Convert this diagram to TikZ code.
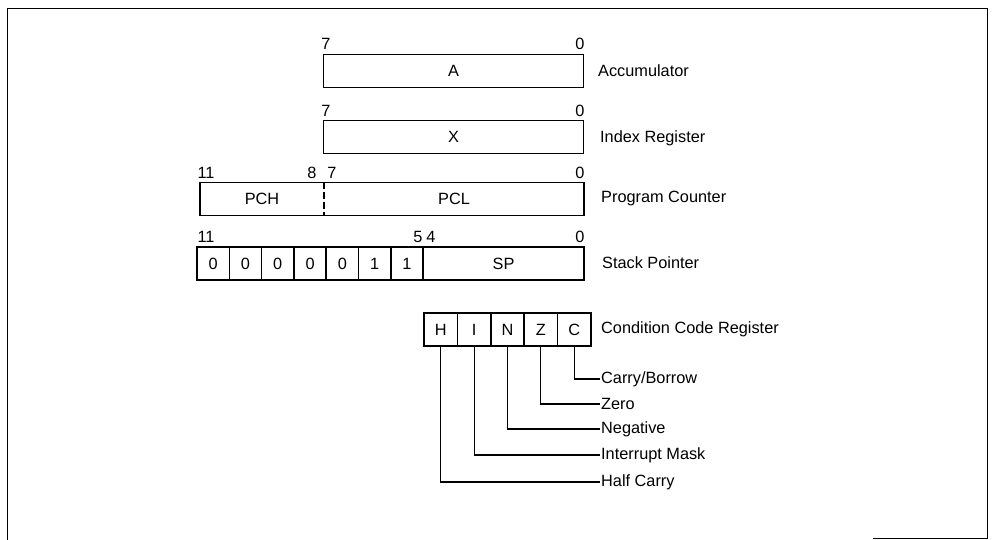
\documentclass[tikz,border=0pt]{standalone}
\usepackage{fontspec}
\setmainfont{Liberation Sans}

\tikzset{
  reg/.style={draw, line width=1.6pt, minimum height=33pt, inner sep=0pt},
  bitno/.style={inner sep=0pt},
  regname/.style={anchor=west, inner sep=1pt},
  lead/.style={line width=1.1pt},
}

\begin{document}
\begin{tikzpicture}[x=1pt, y=-1pt, font=\fontsize{16.3}{19}\selectfont]
  \useasboundingbox (0,0) rectangle (993,540);
  % Frame round the figure.
  \draw[line width=0.9pt] (7,540) -- (7,8) -- (987,8) -- (987,538) -- (873,538);

  % Accumulator.
  \node[reg, minimum width=260pt] (acc) at (453.5,71) {A};
  \node[bitno] (acc7) at (326,44) {7};
  \node[bitno] (acc0) at (580,44) {0};
  \node[regname] (accname) at (597,71) {Accumulator};

  % Index register.
  \node[reg, minimum width=260pt] (ix) at (453.5,137) {X};
  \node[bitno] (ix7) at (326,111) {7};
  \node[bitno] (ix0) at (580,111) {0};
  \node[regname] (ixname) at (599,138) {Index Register};

  % Program counter, split at bit 8/7.
  \node[reg, minimum width=384pt] (pc) at (392,199) {};
  \node (pch) at (262,199) {PCH};
  \node (pcl) at (454,199) {PCL};
  \coordinate (pcdiv) at (324,199);
  \draw[line width=1.1pt, dash pattern=on 7pt off 3pt] (pc.north -| pcdiv) -- (pc.south -| pcdiv);
  \node[bitno] (pc11) at (206,173) {11};
  \node[bitno] (pc8) at (312,173) {8};
  \node[bitno] (pc7) at (332,173) {7};
  \node[bitno] (pc0) at (580,173) {0};
  \node[regname] (pcname) at (600,199) {Program Counter};

  % Stack pointer: fixed upper bits and SP.
  \foreach \b [count=\i from 0] in {0,0,0,0,0,1,1}
    \node[reg, minimum width=32.3pt] (sp\i) at (213.15+32.3*\i,263.5) {\b};
  \node[reg, minimum width=161pt] (sp) at (503.5,263.5) {SP};
  \node[bitno] (sp11) at (206,237) {11};
  \node[bitno] (sp5) at (418,237) {5};
  \node[bitno] (sp4) at (431,237) {4};
  \node[bitno] (sp0) at (580,237) {0};
  \node[regname] (spname) at (601,263) {Stack Pointer};

  % Condition code register.
  \foreach \f [count=\i from 0] in {H,I,N,Z,C}
    \node[reg, minimum width=33.4pt] (cc\f) at (440.7+33.4*\i,329.5) {\f};
  \node[regname] (ccname) at (600,329) {Condition Code Register};

  % Flag names and leaders.
  \node[regname] (ccClbl) at (600,379) {Carry/Borrow};
  \node[regname] (ccZlbl) at (600,404) {Zero};
  \node[regname] (ccNlbl) at (600,429) {Negative};
  \node[regname] (ccIlbl) at (600,455) {Interrupt Mask};
  \node[regname] (ccHlbl) at (600,482) {Half Carry};
  \draw[lead] (ccC.south) |- (ccClbl.west);
  \draw[lead] (ccZ.south) |- (ccZlbl.west);
  \draw[lead] (ccN.south) |- (ccNlbl.west);
  \draw[lead] (ccI.south) |- (ccIlbl.west);
  \draw[lead] (ccH.south) |- (ccHlbl.west);
\end{tikzpicture}
\end{document}
